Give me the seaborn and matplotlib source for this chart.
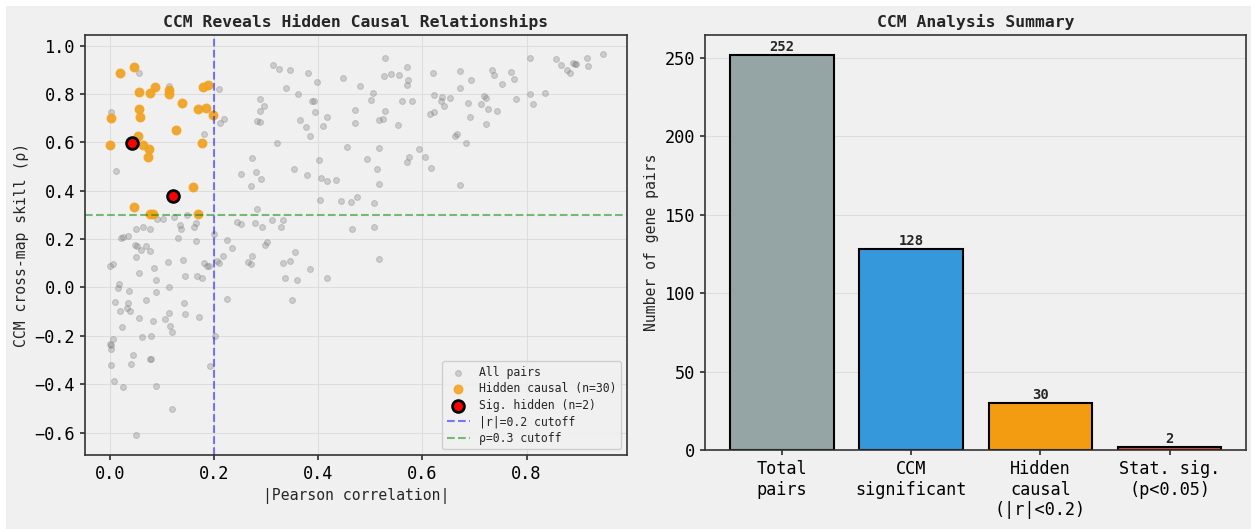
import numpy as np
import matplotlib
matplotlib.use("Agg")
import matplotlib.pyplot as plt
from matplotlib.patches import Rectangle
import seaborn as sns

# |Pearson r| and CCM skill for pairs that are not flagged as hidden-causal
other_r = [
    0.313, 0.325, 0.346, 0.380, 0.397, 0.338, 0.362, 0.289, 0.295, 0.289, 0.283, 0.289,
    0.389, 0.392, 0.393, 0.365, 0.376, 0.385, 0.416, 0.410, 0.321, 0.273, 0.251, 0.281,
    0.290, 0.271, 0.353, 0.378, 0.401, 0.406, 0.416, 0.434, 0.283, 0.244, 0.252, 0.278,
    0.292, 0.312, 0.333, 0.328, 0.403, 0.444, 0.462, 0.474, 0.508, 0.508, 0.465, 0.447,
    0.480, 0.505, 0.502, 0.471, 0.471, 0.529, 0.526, 0.540, 0.556, 0.570, 0.572, 0.570,
    0.560, 0.580, 0.529, 0.525, 0.517, 0.553, 0.456, 0.516, 0.494, 0.512, 0.517, 0.593,
    0.575, 0.570, 0.605, 0.617, 0.621, 0.623, 0.637, 0.635, 0.642, 0.653, 0.614, 0.622,
    0.672, 0.672, 0.694, 0.687, 0.692, 0.663, 0.667, 0.683, 0.672, 0.712, 0.718, 0.722,
    0.726, 0.722, 0.743, 0.733, 0.738, 0.753, 0.770, 0.776, 0.779, 0.806, 0.806, 0.812,
    0.835, 0.857, 0.866, 0.878, 0.884, 0.890, 0.893, 0.895, 0.917, 0.919, 0.946,
    0.056, 0.114, 0.003, 0.180, 0.012, 0.209, 0.211, 0.219,
    0.090, 0.101, 0.063, 0.050, 0.077, 0.123, 0.135, 0.148, 0.165, 0.161,
    0.021, 0.025, 0.034, 0.130, 0.165, 0.199, 0.224, 0.048, 0.052, 0.070, 0.059, 0.076,
    0.051, 0.112, 0.140, 0.000, 0.005, 0.180, 0.186, 0.190, 0.205, 0.210, 0.217, 0.055,
    0.085, 0.089, 0.144, 0.167, 0.177, 0.017, 0.015, 0.036, 0.114, 0.088, 0.070, 0.010,
    0.035, 0.033, 0.039, 0.020, 0.143, 0.225, 0.055, 0.023, 0.083, 0.105, 0.113, 0.144,
    0.172, 0.115, 0.120, 0.006, 0.061, 0.078, 0.202, 0.136,
    0.000, 0.003, 0.002, 0.044, 0.078, 0.076, 0.003, 0.041, 0.192, 0.008, 0.025, 0.088,
    0.119, 0.050,
    0.234, 0.298, 0.302, 0.272, 0.266, 0.270, 0.356, 0.332, 0.346, 0.384, 0.336, 0.359,
    0.417, 0.516, 0.349,
]
other_rho = [
    0.920, 0.903, 0.899, 0.886, 0.848, 0.826, 0.800, 0.778, 0.750, 0.731, 0.687, 0.686,
    0.772, 0.772, 0.726, 0.694, 0.663, 0.628, 0.703, 0.668, 0.596, 0.537, 0.468, 0.477,
    0.448, 0.419, 0.488, 0.466, 0.526, 0.454, 0.439, 0.446, 0.326, 0.272, 0.261, 0.268,
    0.250, 0.280, 0.280, 0.248, 0.361, 0.357, 0.354, 0.375, 0.348, 0.250, 0.240, 0.866,
    0.832, 0.804, 0.774, 0.735, 0.681, 0.949, 0.873, 0.881, 0.877, 0.910, 0.857, 0.836,
    0.771, 0.771, 0.731, 0.695, 0.691, 0.670, 0.579, 0.577, 0.530, 0.491, 0.429, 0.574,
    0.538, 0.519, 0.541, 0.495, 0.888, 0.794, 0.786, 0.770, 0.749, 0.785, 0.717, 0.727,
    0.894, 0.823, 0.857, 0.764, 0.705, 0.625, 0.636, 0.599, 0.423, 0.759, 0.793, 0.785,
    0.739, 0.676, 0.731, 0.898, 0.880, 0.841, 0.890, 0.862, 0.779, 0.948, 0.801, 0.760,
    0.804, 0.945, 0.920, 0.901, 0.887, 0.930, 0.926, 0.926, 0.950, 0.916, 0.964,
    0.888, 0.833, 0.724, 0.633, 0.483, 0.822, 0.679, 0.695,
    0.281, 0.281, 0.251, 0.241, 0.241, 0.292, 0.257, 0.298, 0.268, 0.251,
    0.205, 0.207, 0.212, 0.203, 0.194, 0.223, 0.196, 0.174, 0.170, 0.172, 0.153, 0.150,
    0.127, 0.106, 0.113, 0.088, 0.098, 0.102, 0.090, 0.090, 0.110, 0.103, 0.130, 0.058,
    0.081, 0.032, 0.048, 0.047, 0.041, 0.015, -0.004, -0.015, 0.001, -0.019, -0.050, -0.062,
    -0.063, -0.083, -0.098, -0.097, -0.066, -0.047, -0.128, -0.163, -0.137, -0.131, -0.106, -0.109,
    -0.121, -0.160, -0.186, -0.212, -0.207, -0.199, -0.201, 0.241,
    -0.236, -0.254, -0.238, -0.281, -0.294, -0.295, -0.320, -0.316, -0.323, -0.386, -0.412, -0.406,
    -0.502, -0.612,
    0.163, 0.174, 0.188, 0.130, 0.105, 0.095, 0.148, 0.101, 0.110, 0.076, 0.040, 0.032,
    0.041, 0.117, -0.050,
]

# hidden causal pairs: strong CCM skill but weak linear correlation
hidden_r = [
    0.020, 0.047, 0.056, 0.077, 0.086, 0.114, 0.114, 0.139, 0.170, 0.178, 0.189, 0.185,
    0.197, 0.003, 0.056, 0.057, 0.126, 0.001, 0.054, 0.063, 0.075, 0.074, 0.177, 0.159,
    0.047, 0.077, 0.082, 0.170, 0.043, 0.122,
]
hidden_rho = [
    0.887, 0.910, 0.808, 0.806, 0.828, 0.817, 0.800, 0.761, 0.739, 0.828, 0.839, 0.743,
    0.712, 0.699, 0.737, 0.703, 0.651, 0.589, 0.626, 0.589, 0.571, 0.538, 0.596, 0.417,
    0.334, 0.305, 0.305, 0.302, 0.596, 0.378,
]

# hidden pairs that also pass the significance test
sig_r = [0.043, 0.122]
sig_rho = [0.596, 0.378]

# summary counts
bar_labels = ["Total\npairs", "CCM\nsignificant", "Hidden\ncausal\n(|r|<0.2)", "Stat. sig.\n(p<0.05)"]
bar_counts = [252, 128, 30, 2]
bar_colors = ["#95a5a6", "#3498db", "#f39c12", "#e74c3c"]

BG = "#f0f0f0"
sns.set_theme(style="whitegrid", rc={
    "axes.facecolor": BG,
    "figure.facecolor": "white",
    "axes.edgecolor": "#333333",
    "axes.linewidth": 1.2,
    "grid.color": "#d9d9d9",
    "grid.linewidth": 0.8,
    "xtick.bottom": True,
    "ytick.left": True,
    "xtick.major.size": 3.5,
    "ytick.major.size": 3.5,
    "xtick.color": "#333333",
    "ytick.color": "#333333",
    "xtick.labelcolor": "black",
    "ytick.labelcolor": "black",
})
plt.rcParams["font.family"] = ["DejaVu Sans Mono", "DejaVu Sans"]

fig = plt.figure(figsize=(12.51, 5.29), dpi=100)
fig.patches.append(Rectangle((6 / 1251, 0), 1, 1 - 6 / 529, transform=fig.transFigure,
                             facecolor=BG, edgecolor="none", zorder=-10))

ax1 = fig.add_axes([0.0679, 0.1399, 0.4333, 0.7939])
ax2 = fig.add_axes([0.5636, 0.1493, 0.4324, 0.7845])

# ---- scatter: CCM skill vs |Pearson r| ----
all_r = np.array(other_r + hidden_r)
all_rho = np.array(other_rho + hidden_rho)

sns.scatterplot(x=all_r, y=all_rho, ax=ax1, color="gray", alpha=0.32, s=18,
                edgecolor="gray", linewidth=0.8, label="All pairs")
sns.scatterplot(x=hidden_r, y=hidden_rho, ax=ax1, color="#f5a21a", alpha=0.85, s=38,
                edgecolor="#f5a21a", linewidth=1.0, label=f"Hidden causal (n={len(hidden_r)})")
sns.scatterplot(x=sig_r, y=sig_rho, ax=ax1, color="red", s=72, edgecolor="black",
                linewidth=2, label=f"Sig. hidden (n={len(sig_r)})", zorder=5)
ax1.axvline(0.2, color="blue", linestyle="--", alpha=0.5, linewidth=1.5, label="|r|=0.2 cutoff")
ax1.axhline(0.3, color="green", linestyle="--", alpha=0.5, linewidth=1.5, label="ρ=0.3 cutoff")

ax1.set_xlim(-0.048, 0.993)
ax1.set_ylim(-0.693, 1.044)
ax1.set_xticks([0.0, 0.2, 0.4, 0.6, 0.8])
ax1.set_yticks(np.arange(-0.6, 1.01, 0.2))
ax1.tick_params(labelsize=12.2)
ax1.set_xlabel("|Pearson correlation|", fontsize=10.6)
ax1.set_ylabel("CCM cross-map skill (ρ)", fontsize=10.6)
ax1.set_title("CCM Reveals Hidden Causal Relationships", fontsize=11.8, fontweight="bold")
ax1.grid(True, alpha=0.8)
leg = ax1.legend(loc="lower right", fontsize=8.3, frameon=True, facecolor=BG,
                 edgecolor="#cccccc", framealpha=0.9, labelspacing=0.3)

# ---- bar chart: analysis summary ----
sns.barplot(x=bar_labels, y=bar_counts, hue=bar_labels, palette=bar_colors, ax=ax2,
            edgecolor="black", linewidth=1.5, legend=False, width=0.8, saturation=1)
for i, v in enumerate(bar_counts):
    ax2.text(i, v + 0.5, str(v), ha="center", va="bottom", fontsize=10, fontweight="bold")

ax2.set_xlim(-0.595, 3.592)
ax2.set_ylim(0, 264.6)
ax2.tick_params(labelsize=12.2)
ax2.set_ylabel("Number of gene pairs", fontsize=10.6)
ax2.set_xlabel("")
ax2.set_title("CCM Analysis Summary", fontsize=11.8, fontweight="bold")
ax2.grid(True, axis="y", alpha=0.8)
ax2.grid(False, axis="x")
ax2.set_axisbelow(True)

fig.savefig("out.png", dpi=100)
